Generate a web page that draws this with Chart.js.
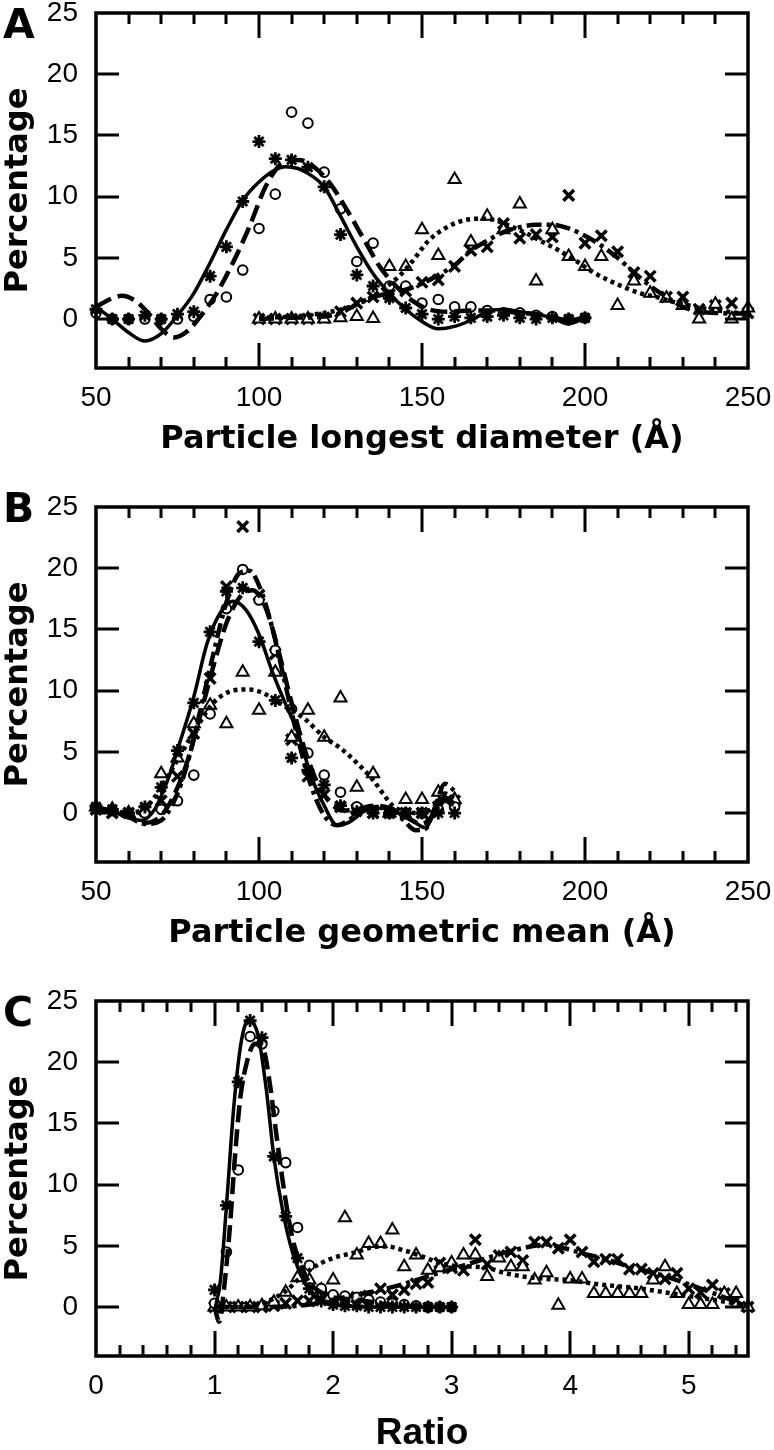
<!DOCTYPE html>
<html>
<head>
<meta charset="utf-8">
<script src="https://cdn.jsdelivr.net/npm/chart.js@4.4.0/dist/chart.umd.min.js"></script>
<style>
html, body { margin: 0; padding: 0; background: #fff; overflow: hidden; }
#page { position: relative; width: 774px; height: 1450px; }
canvas { position: absolute; left: 0; }
</style>
</head>
<body>
<div id="page">
  <canvas id="chartA" width="774" height="480" style="top:0px"></canvas>
  <canvas id="chartB" width="774" height="494" style="top:480px"></canvas>
  <canvas id="chartC" width="774" height="476" style="top:974px"></canvas>
</div>
<script>
// ---- tick labels ----
const yTickValues = [0, 5, 10, 15, 20, 25];
const xTickValuesAB = [50, 100, 150, 200, 250];
const xTickValuesC = [0, 1, 2, 3, 4, 5];

// ---- panel A : particle longest diameter ----
const xA1 = [50, 55, 60, 65, 70, 75, 80, 85, 90, 95, 100, 105, 110, 115, 120, 125, 130, 135, 140, 145, 150, 155, 160, 165, 170, 175, 180, 185, 190, 195, 200];
const asteriskA = [0.8, 0, 0, 0.3, 0, 0.4, 0.6, 3.5, 5.9, 9.6, 14.5, 13.1, 13.0, 12.4, 10.8, 6.9, 3.6, 2.7, 1.7, 0.9, 0.4, 0, 0.2, 0.1, 0.2, 0.3, 0.1, 0, 0.1, 0, 0.1];
const circleA = [0.5, 0, 0, 0, 0, 0, 0.2, 1.6, 1.8, 4.0, 7.4, 10.2, 16.9, 16.0, 12.0, 9.0, 4.7, 6.2, 2.7, 2.7, 1.3, 1.6, 1.0, 1.0, 0.7, 0.5, 0.5, 0.3, 0.2, 0, 0.1];
const xA2 = [100, 105, 110, 115, 120, 125, 130, 135, 140, 145, 150, 155, 160, 165, 170, 175, 180, 185, 190, 195, 200, 205, 210, 215, 220, 225, 230, 235, 240, 245, 250];
const triangleA = [0, 0, 0, 0, 0, 0.1, 0.2, 0.05, 4.3, 4.3, 7.3, 5.2, 11.4, 6.3, 8.4, 7.3, 9.4, 3.1, 7.3, 5.1, 4.3, 5.1, 1.1, 3.1, 2.1, 1.7, 1.1, 0, 1.2, 0, 0.9];
const crossA = [0, 0, 0, 0, 0.1, 0.6, 1.3, 1.8, 2.0, 2.3, 3.0, 3.2, 4.3, 5.6, 5.9, 7.8, 6.6, 6.9, 6.7, 10.1, 6.2, 6.8, 5.5, 3.8, 3.5, 1.8, 1.8, 0.8, 1.1, 1.3, 0.5];

const solidAx = [50, 55, 60, 65, 70, 75, 80, 85, 90, 95, 100, 105, 108, 112, 115, 120, 125, 130, 135, 140, 145, 150, 155, 160, 165, 170, 175, 180, 185, 190, 195, 200];
const solidAy = [1.0, 0.0, -1.1, -1.8, -1.2, 0.3, 2.1, 4.6, 7.3, 9.7, 11.2, 12.2, 12.45, 12.3, 11.9, 10.8, 8.4, 5.9, 3.7, 2.1, 0.8, -0.2, -0.8, -0.6, -0.1, 0.6, 0.8, 0.6, 0.4, 0.1, -0.4, 0.1];
const dashedAx = [50, 55, 58, 62, 66, 70, 74, 78, 82, 87, 92, 97, 102, 107, 112, 117, 122, 127, 132, 137, 142, 147, 152, 158, 165, 172, 180, 188, 195, 200];
const dashedAy = [1.0, 1.7, 1.9, 1.5, 0.5, -0.8, -1.5, -1.0, 0.2, 2.1, 4.6, 7.5, 10.8, 12.7, 13.0, 12.4, 11.0, 8.9, 6.6, 4.3, 2.7, 1.5, 0.8, 0.6, 0.7, 0.7, 0.5, 0.3, -0.1, 0.1];
const dottedAx = [100, 110, 120, 128, 134, 139, 143, 147, 152, 157, 162, 167, 172, 177, 182, 187, 192, 197, 202, 207, 212, 217, 222, 227, 232, 237, 242, 247, 250];
const dottedAy = [0.1, 0.2, 0.5, 1.0, 1.7, 2.6, 3.5, 4.7, 6.4, 7.4, 8.0, 8.2, 8.1, 7.6, 7.0, 6.3, 5.6, 4.8, 3.9, 3.2, 2.6, 2.1, 1.8, 1.4, 1.1, 0.85, 0.65, 0.5, 0.45];
const dashDotAx = [100, 110, 120, 125, 130, 135, 140, 145, 150, 155, 160, 165, 170, 175, 180, 185, 190, 195, 200, 205, 210, 215, 220, 225, 230, 235, 240, 245, 250];
const dashDotAy = [0.0, 0.1, 0.2, 0.5, 1.2, 1.8, 2.1, 2.4, 2.9, 3.6, 4.4, 5.6, 6.4, 7.1, 7.5, 7.7, 7.7, 7.4, 6.8, 6.0, 5.0, 3.8, 2.7, 1.8, 1.0, 0.6, 0.5, 0.45, 0.45];

// ---- panel B : particle geometric mean ----
const xB = [50, 55, 60, 65, 70, 75, 80, 85, 90, 95, 100, 105, 110, 115, 120, 125, 130, 135, 140, 145, 150, 155, 160];
const asteriskB = [0.5, 0.3, 0, 0.5, 2.1, 5.1, 9.0, 14.8, 18.1, 18.4, 14.0, 9.2, 4.5, 3.5, 2.3, 0.6, 0.1, 0, 0, 0, 0, 0, 0];
const circleB = [0.4, 0.2, 0, 0, 0.3, 1.0, 3.1, 8.1, 16.7, 19.9, 17.4, 13.3, 8.5, 4.9, 3.1, 1.7, 0.5, 0.2, 0, 0, 0, 0.3, 0.5];
const triangleB = [0.5, 0.3, 0, 0.2, 3.2, 4.5, 7.3, 8.8, 7.3, 11.5, 8.4, 11.5, 6.2, 8.4, 6.2, 9.4, 2.1, 3.2, 0, 1.1, 1.1, 1.7, 1.1];
const crossB = [0.3, 0, 0, 0.2, 1.0, 3.0, 6.5, 11.0, 18.5, 23.4, 17.8, 13.0, 6.0, 3.0, 1.5, 0.5, 0.3, 0, 0, 0, 0, 0.5, 1.0];

const solidBx = [50, 55, 60, 64, 68, 72, 76, 80, 84, 88, 92, 96, 100, 104, 108, 112, 116, 120, 124, 128, 132, 136, 140, 144, 148, 151, 154, 157, 160];
const solidBy = [0.5, 0.2, -0.4, -0.6, 0.3, 2.7, 6.0, 9.5, 13.8, 16.3, 17.3, 16.6, 14.6, 11.6, 9.0, 6.5, 3.0, 0.6, -1.0, -0.7, 0.1, 0.4, 0.3, -0.2, -0.8, -1.2, 0.2, 1.3, 0.8];
const dashedBx = [50, 55, 60, 65, 70, 74, 78, 82, 86, 90, 94, 98, 102, 106, 110, 114, 118, 122, 126, 130, 135, 140, 145, 150, 154, 157, 160];
const dashedBy = [0.3, 0.1, -0.3, -0.8, -0.2, 1.5, 4.2, 8.0, 12.0, 15.5, 17.6, 18.2, 16.8, 13.2, 9.0, 5.2, 2.4, 0.8, 0.2, 0.3, 0.6, 0.4, -0.3, -0.9, 0.0, 1.0, 0.6];
const dottedBx = [50, 55, 60, 65, 68, 72, 76, 80, 86, 92, 97, 102, 108, 114, 120, 125, 130, 135, 138, 141, 145, 150, 154, 157, 160];
const dottedBy = [0.3, 0.2, 0.0, 0.4, 1.3, 3.0, 4.8, 6.6, 9.0, 10.0, 10.1, 9.7, 8.7, 7.7, 6.2, 5.3, 4.1, 2.7, 1.6, 0.6, 0.1, 0.0, 0.6, 1.6, 1.2];
const dashDotBx = [50, 55, 60, 65, 70, 74, 78, 82, 86, 90, 94, 97, 100, 104, 108, 112, 116, 120, 124, 128, 132, 136, 140, 144, 148, 151, 154, 157, 160];
const dashDotBy = [0.4, 0.1, -0.3, -0.9, -0.6, 1.0, 4.0, 8.4, 13.0, 17.2, 19.6, 19.8, 18.6, 15.2, 10.6, 6.0, 2.2, -0.2, -1.0, -0.5, 0.3, 0.5, 0.3, -0.5, -1.4, -1.3, 0.5, 2.4, 1.8];

// ---- panel C : ratio ----
const xC1 = [1.0, 1.1, 1.2, 1.3, 1.4, 1.5, 1.6, 1.7, 1.8, 1.9, 2.0, 2.1, 2.2, 2.3, 2.4, 2.5, 2.6, 2.7, 2.8, 2.9, 3.0];
const asteriskC = [1.4, 8.3, 18.4, 23.4, 22.0, 12.3, 7.4, 4.0, 1.5, 0.5, 0.2, 0.1, 0.1, 0, 0, 0, 0, 0, 0, 0, 0];
const circleC = [0.3, 4.5, 11.2, 22.1, 21.5, 16.0, 11.8, 6.5, 3.4, 1.5, 1.0, 0.9, 0.8, 0.6, 0.4, 0.3, 0.2, 0.1, 0, 0, 0];
const xC2 = [1.0, 1.1, 1.2, 1.3, 1.4, 1.5, 1.6, 1.7, 1.8, 1.9, 2.0, 2.1, 2.2, 2.3, 2.4, 2.5, 2.6, 2.7, 2.8, 2.9, 3.0, 3.1, 3.2, 3.3, 3.4, 3.5, 3.6, 3.7, 3.8, 3.9, 4.0, 4.1, 4.2, 4.3, 4.4, 4.5, 4.6, 4.7, 4.8, 4.9, 5.0, 5.1, 5.2, 5.3, 5.4, 5.5];
const triangleC = [0, 0, 0, 0, 0.1, 0.4, 1.2, 2.4, 2.2, 1.4, 2.2, 7.3, 4.25, 5.2, 5.2, 6.3, 3.3, 4.25, 3.0, 3.2, 3.6, 4.25, 4.25, 2.5, 4.0, 3.3, 3.3, 2.2, 2.8, 0.15, 2.3, 2.3, 1.1, 1.1, 1.1, 1.1, 1.1, 2.2, 3.3, 1.1, 0.2, 0.2, 0.2, 1.1, 1.1, 0];
const crossC = [0, 0, 0, 0, 0, 0.1, 0.3, 0.5, 0.5, 0.6, 0.7, 0.5, 0.8, 0.9, 1.5, 1.0, 1.4, 1.9, 2.0, 3.6, 3.2, 3.0, 5.5, 3.5, 4.2, 4.5, 3.8, 5.3, 5.3, 4.8, 5.5, 4.5, 3.7, 3.9, 3.9, 3.1, 3.1, 2.75, 2.3, 2.75, 1.5, 1.2, 1.8, 1.1, 0.6, 0];

const solidCx = [1.0, 1.05, 1.1, 1.16, 1.21, 1.25, 1.29, 1.33, 1.37, 1.44, 1.5, 1.58, 1.66, 1.75, 1.85, 1.95, 2.1, 2.3, 2.6, 3.0];
const solidCy = [-0.3, 2.2, 8.2, 16.1, 20.7, 22.8, 23.5, 23.2, 22.1, 17.5, 12.3, 7.6, 4.4, 2.2, 0.8, 0.3, 0.1, 0, 0, 0];
const dashedCx = [1.0, 1.04, 1.08, 1.13, 1.17, 1.215, 1.27, 1.34, 1.41, 1.47, 1.52, 1.59, 1.66, 1.735, 1.8, 1.9, 2.0, 2.2, 2.4, 2.6, 3.0];
const dashedCy = [0.0, -1.2, 1.5, 6.6, 12.0, 16.9, 19.9, 21.5, 21.1, 18.0, 14.2, 9.3, 5.5, 3.3, 2.0, 1.2, 0.8, 0.6, 0.3, 0.1, 0];
const dottedCx = [1.0, 1.2, 1.4, 1.6, 1.7, 1.8, 1.9, 2.0, 2.2, 2.34, 2.45, 2.59, 2.76, 2.9, 3.04, 3.18, 3.3, 3.44, 3.6, 3.8, 4.0, 4.2, 4.4, 4.6, 4.8, 5.0, 5.2, 5.4, 5.5];
const dottedCy = [0, 0, 0.3, 1.3, 2.2, 3.0, 3.6, 4.0, 4.5, 4.9, 4.95, 4.65, 4.1, 3.6, 3.35, 3.3, 3.2, 2.8, 2.5, 2.3, 2.2, 1.9, 1.7, 1.5, 1.2, 0.9, 0.6, 0.3, 0.2];
const dashDotCx = [1.0, 1.4, 1.8, 2.0, 2.2, 2.4, 2.6, 2.8, 3.0, 3.2, 3.4, 3.55, 3.7, 3.8, 3.95, 4.1, 4.3, 4.5, 4.7, 4.9, 5.1, 5.3, 5.5];
const dashDotCy = [0, 0, 0.2, 0.6, 1.0, 1.4, 1.9, 2.5, 3.1, 3.7, 4.3, 4.7, 5.0, 5.1, 4.8, 4.4, 3.9, 3.3, 2.8, 2.2, 1.5, 0.8, 0];

// ---- helpers ----
const pts = (xs, ys) => xs.map((x, i) => ({ x: x, y: ys[i] }));

const SOLID = [];
const DASHED = [17, 7];
const DOTTED = [4, 4];
const DASHDOT = [15, 5, 4, 5];

function curve(xs, ys, dash) {
  return {
    data: pts(xs, ys),
    showLine: true,
    pointRadius: 0,
    borderColor: '#000',
    borderWidth: dash.length ? 4.5 : 3.5,
    borderDash: dash,
    borderCapStyle: 'butt',
    cubicInterpolationMode: 'monotone',
    fill: false,
    clip: false
  };
}

function markers(xs, ys, style, radius, width) {
  return {
    data: pts(xs, ys),
    showLine: false,
    pointStyle: style,
    pointRadius: radius,
    pointBorderWidth: width,
    pointBorderColor: '#000',
    pointBackgroundColor: '#fff',
    borderColor: '#000',
    backgroundColor: '#fff',
    clip: false
  };
}

// frame, inward ticks and panel letter
const framePlugin = {
  id: 'frame',
  afterDraw(chart, args, opts) {
    const { ctx, chartArea: a, scales } = chart;
    const x = scales.x, y = scales.y;
    ctx.save();
    ctx.strokeStyle = '#000';
    ctx.lineCap = 'butt';
    ctx.lineWidth = 3;
    ctx.beginPath();
    for (let v = opts.xMin + opts.minorStep; v < opts.xMax - 1e-9; v += opts.minorStep) {
      const px = Math.round(x.getPixelForValue(v));
      const isMajor = Math.abs(v / opts.majorStep - Math.round(v / opts.majorStep)) < 1e-6;
      const len = isMajor ? 25 : 11;
      ctx.moveTo(px, a.bottom); ctx.lineTo(px, a.bottom - len);
      ctx.moveTo(px, a.top); ctx.lineTo(px, a.top + len);
    }
    yTickValues.forEach(v => {
      if (v >= 25) return;
      const py = Math.round(y.getPixelForValue(v));
      ctx.moveTo(a.left, py); ctx.lineTo(a.left + 23, py);
      ctx.moveTo(a.right, py); ctx.lineTo(a.right - 23, py);
    });
    ctx.stroke();
    ctx.lineWidth = 3.5;
    ctx.strokeRect(a.left, a.top, a.right - a.left, a.bottom - a.top);
    ctx.fillStyle = '#000';
    ctx.font = 'bold 41px "DejaVu Sans"';
    ctx.textAlign = 'left';
    ctx.textBaseline = 'alphabetic';
    ctx.fillText(opts.letter, 3, opts.letterY);
    ctx.restore();
  }
};

function makePanel(id, cfg) {
  new Chart(document.getElementById(id), {
    type: 'scatter',
    data: {
      datasets: [
        curve(cfg.solid[0], cfg.solid[1], SOLID),
        curve(cfg.dashed[0], cfg.dashed[1], DASHED),
        curve(cfg.dotted[0], cfg.dotted[1], DOTTED),
        curve(cfg.dashDot[0], cfg.dashDot[1], DASHDOT),
        markers(cfg.asterisk[0], cfg.asterisk[1], 'star', 6.5, 2.8),
        markers(cfg.circle[0], cfg.circle[1], 'circle', 4.8, 2),
        markers(cfg.triangle[0], cfg.triangle[1], 'triangle', 7, 2),
        markers(cfg.cross[0], cfg.cross[1], 'crossRot', 7.5, 3.5)
      ]
    },
    options: {
      responsive: false,
      animation: false,
      devicePixelRatio: 1,
      layout: { padding: { top: cfg.padTop, right: 26, left: 0, bottom: 0 } },
      plugins: {
        legend: { display: false },
        tooltip: { enabled: false },
        frame: {
          letter: cfg.letter, letterY: cfg.letterY,
          xMin: cfg.xMin, xMax: cfg.xMax, minorStep: cfg.minorStep, majorStep: cfg.majorStep
        }
      },
      scales: {
        x: {
          type: 'linear',
          min: cfg.xMin, max: cfg.xMax,
          grid: { display: false, drawTicks: false },
          border: { display: false },
          ticks: { color: '#000', padding: 16, font: { family: '"Liberation Sans", Arial, sans-serif', size: 28, lineHeight: 1 } },
          title: {
            display: true, text: cfg.xTitle, color: '#000',
            font: { family: cfg.xTitleFont, size: cfg.xTitleSize, weight: 'bold', lineHeight: 1 },
            padding: { top: 0, bottom: cfg.xTitlePad }
          },
          afterBuildTicks(s) { s.ticks = cfg.xTicks.map(v => ({ value: v })); },
          afterFit(s) { s.height = cfg.xHeight; s.paddingLeft = 0; s.paddingRight = 0; }
        },
        y: {
          type: 'linear',
          min: -4, max: 25,
          grid: { display: false, drawTicks: false },
          border: { display: false },
          ticks: { color: '#000', padding: 18, font: { family: '"Liberation Sans", Arial, sans-serif', size: 28, lineHeight: 1 } },
          title: {
            display: true, text: 'Percentage', color: '#000',
            font: { family: '"DejaVu Sans", sans-serif', size: 32, weight: 'bold', lineHeight: 1 },
            padding: { top: 3, bottom: 0 }
          },
          afterBuildTicks(s) { s.ticks = yTickValues.map(v => ({ value: v })); },
          afterFit(s) { s.width = 96; s.paddingTop = 0; s.paddingBottom = 0; }
        }
      }
    },
    plugins: [framePlugin]
  });
}

makePanel('chartA', {
  letter: 'A', letterY: 38, padTop: 13, xHeight: 112,
  xMin: 50, xMax: 250, minorStep: 10, majorStep: 50, xTicks: xTickValuesAB,
  xTitle: 'Particle longest diameter (Å)', xTitleFont: '"DejaVu Sans", sans-serif', xTitleSize: 32, xTitlePad: 24,
  solid: [solidAx, solidAy], dashed: [dashedAx, dashedAy], dotted: [dottedAx, dottedAy], dashDot: [dashDotAx, dashDotAy],
  asterisk: [xA1, asteriskA], circle: [xA1, circleA], triangle: [xA2, triangleA], cross: [xA2, crossA]
});

makePanel('chartB', {
  letter: 'B', letterY: 42, padTop: 27, xHeight: 112,
  xMin: 50, xMax: 250, minorStep: 10, majorStep: 50, xTicks: xTickValuesAB,
  xTitle: 'Particle geometric mean (Å)', xTitleFont: '"DejaVu Sans", sans-serif', xTitleSize: 32, xTitlePad: 24,
  solid: [solidBx, solidBy], dashed: [dashedBx, dashedBy], dotted: [dottedBx, dottedBy], dashDot: [dashDotBx, dashDotBy],
  asterisk: [xB, asteriskB], circle: [xB, circleB], triangle: [xB, triangleB], cross: [xB, crossB]
});

makePanel('chartC', {
  letter: 'C', letterY: 52, padTop: 27, xHeight: 94,
  xMin: 0, xMax: 5.5, minorStep: 0.2, majorStep: 1, xTicks: xTickValuesC,
  xTitle: 'Ratio', xTitleFont: '"Liberation Sans", Arial, sans-serif', xTitleSize: 37, xTitlePad: -2,
  solid: [solidCx, solidCy], dashed: [dashedCx, dashedCy], dotted: [dottedCx, dottedCy], dashDot: [dashDotCx, dashDotCy],
  asterisk: [xC1, asteriskC], circle: [xC1, circleC], triangle: [xC2, triangleC], cross: [xC2, crossC]
});
</script>
</body>
</html>
